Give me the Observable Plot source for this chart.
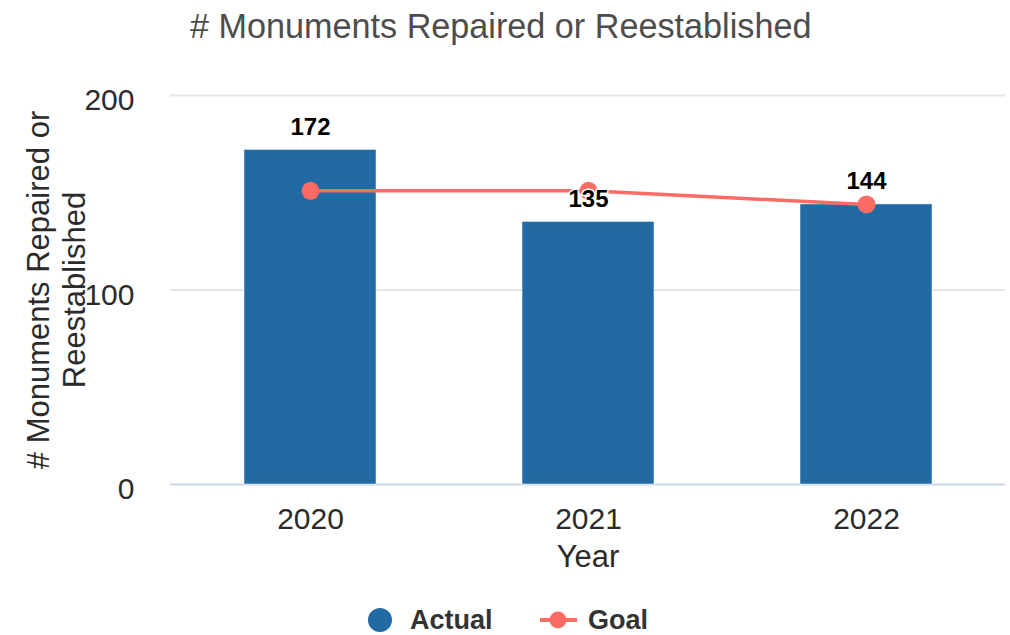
<!DOCTYPE html>
<html><head><meta charset="utf-8">
<script src="https://cdn.jsdelivr.net/npm/d3@7"></script>
<script src="https://cdn.jsdelivr.net/npm/@observablehq/plot@0.6"></script>
<style>
body{margin:0;background:#fff;font-family:"Liberation Sans",Arial,sans-serif;}
#wrap{position:relative;width:1010px;height:635px;overflow:hidden;background:#fff}
#title{position:absolute;left:190px;top:6px;font-size:34.2px;color:#4d4d4d;white-space:nowrap;line-height:40px}
#chart{position:absolute;left:0;top:60px}
#legend{position:absolute;left:0;top:595px;width:1010px;height:40px}
</style></head><body>
<div id="wrap">
<div id="title"># Monuments Repaired or Reestablished</div>
<div id="chart"></div>
<svg id="legend" width="1010" height="40"></svg>
</div>
<script>
const years = ["2020", "2021", "2022"];
const actual = [172, 135, 144];
const goal = [151, 151, 144];
const yTicks = [0, 100, 200];
const seriesNames = ["Actual", "Goal"];
const colors = ["#226aa3", "#fb6c65"];

const rows = years.map((y, i) => ({year: y, actual: actual[i], goal: goal[i]}));

const chart = Plot.plot({
  width: 1010,
  height: 530,
  marginLeft: 170,
  marginRight: 5,
  marginTop: 35,
  marginBottom: 106,
  style: {fontFamily: '"Liberation Sans", Arial, sans-serif', background: "transparent"},
  x: {domain: years, paddingInner: 0.526, paddingOuter: 0.263, label: null},
  y: {domain: [0, 200], label: null},
  marks: [
    Plot.gridY(yTicks.filter(d => d > 0), {stroke: "#e6e6e6", strokeOpacity: 1, strokeWidth: 2}),
    Plot.ruleY([0], {stroke: "#ccd6eb", strokeWidth: 2}),
    Plot.axisY(yTicks, {tickSize: 0, tickPadding: 36, fontSize: 30, fill: "#2b2b2b", dy: 5, label: null}),
    Plot.axisX({tickSize: 0, tickPadding: 23, fontSize: 30, fill: "#2b2b2b", label: null}),
    Plot.text(["Year"], {frameAnchor: "bottom", dy: 73, lineAnchor: "middle", fontSize: 31, fill: "#2b2b2b"}),
    Plot.text(["# Monuments Repaired or\nReestablished"], {frameAnchor: "left", dx: -115, rotate: -90, lineAnchor: "middle", textAnchor: "middle", fontSize: 31, lineHeight: 1.16, fill: "#2b2b2b"}),
    Plot.barY(rows, {x: "year", y: "actual", fill: colors[0], stroke: "#ffffff", strokeOpacity: 0.5, strokeWidth: 1}),
    Plot.line(rows, {x: "year", y: "goal", stroke: colors[1], strokeWidth: 3.5}),
    Plot.dot(rows, {x: "year", y: "goal", r: 9, fill: colors[1]}),
    Plot.text(rows, {x: "year", y: "actual", text: d => String(d.actual), dy: -23, fontSize: 24, fontWeight: "bold", fill: "#000", stroke: "#fff", strokeWidth: 3, lineAnchor: "middle"})
  ]
});
document.getElementById("chart").appendChild(chart);

// legend
const lg = d3.select("#legend");
const cy = 25;
lg.append("circle").attr("cx", 380).attr("cy", cy).attr("r", 12).attr("fill", colors[0]);
lg.append("text").attr("x", 410).attr("y", cy).attr("dy", "0.35em").attr("font-size", 27).attr("font-weight", "bold").attr("fill", "#333").attr("font-family", '"Liberation Sans", Arial, sans-serif').text(seriesNames[0]);
lg.append("line").attr("x1", 540).attr("x2", 577).attr("y1", cy).attr("y2", cy).attr("stroke", colors[1]).attr("stroke-width", 4);
lg.append("circle").attr("cx", 558).attr("cy", cy).attr("r", 8.5).attr("fill", colors[1]);
lg.append("text").attr("x", 588).attr("y", cy).attr("dy", "0.35em").attr("font-size", 27).attr("font-weight", "bold").attr("fill", "#333").attr("font-family", '"Liberation Sans", Arial, sans-serif').text(seriesNames[1]);
</script>
</body></html>
